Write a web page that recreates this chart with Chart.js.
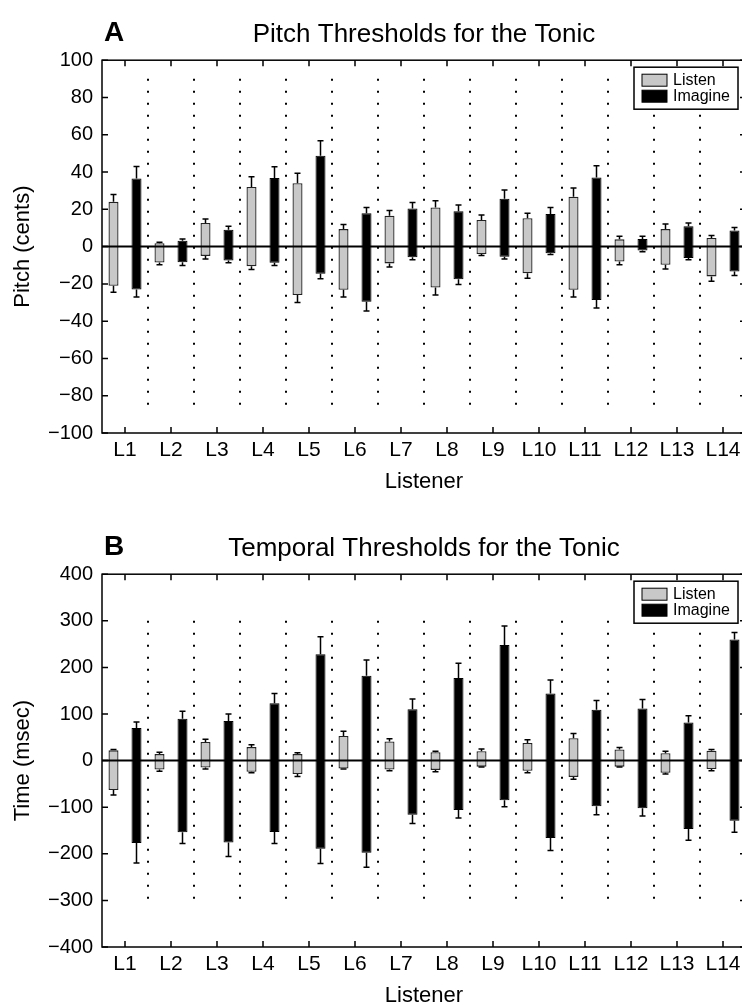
<!DOCTYPE html>
<html>
<head>
<meta charset="utf-8">
<script src="https://cdn.jsdelivr.net/npm/chart.js@4.4.0/dist/chart.umd.min.js"></script>
<style>
  html, body { margin: 0; padding: 0; background: #fff; overflow: hidden; width: 742px; height: 1008px; }
  .panel { position: absolute; left: 0; width: 760px; }
  #boxA { top: 0; height: 500px; }
  #boxB { top: 514px; height: 494px; }
</style>
</head>
<body>
<div class="panel" id="boxA"><canvas id="pitchChart"></canvas></div>
<div class="panel" id="boxB"><canvas id="timeChart"></canvas></div>
<script>
const listeners = ["L1", "L2", "L3", "L4", "L5", "L6", "L7", "L8", "L9", "L10", "L11", "L12", "L13", "L14"];
const seriesNames = ["Listen", "Imagine"];

// A: pitch thresholds (cents)
const pitchListenLow = [-21, -8.5, -5, -10.5, -26, -23.2, -9, -22, -4, -14.3, -23.2, -8, -9.8, -16];
const pitchListenHigh = [24, 1.8, 12.7, 32, 34, 9.4, 16.6, 21, 14.3, 15.2, 26.8, 3.9, 9.4, 4.6];
const pitchListenLowErr = [3.5, 1.3, 1.6, 1.8, 4, 3.8, 2, 4, 0.8, 2.7, 3.8, 1.8, 2.2, 2.6];
const pitchListenHighErr = [4, 0.5, 2.1, 5.5, 5.3, 2.4, 2.7, 3.6, 2.7, 2.7, 4.6, 1.6, 2.7, 1.3];
const pitchImagineLow = [-23, -8.4, -7.5, -8.7, -14.6, -29.6, -5.7, -17.5, -5.4, -3.6, -28.6, -2.1, -6.1, -13.4];
const pitchImagineHigh = [36.6, 3.2, 9.1, 36.8, 48.7, 17.9, 20.5, 18.9, 25.7, 17.5, 37.1, 4.1, 10.9, 8.6];
const pitchImagineLowErr = [4, 1.8, 1.2, 1.5, 2.7, 4.9, 1.4, 2.8, 1.2, 0.7, 4.4, 0.7, 0.9, 2.1];
const pitchImagineHighErr = [6.4, 0.9, 1.8, 6, 8.1, 3.1, 3.2, 3.4, 4.6, 3.5, 6.3, 1.4, 1.8, 1.7];

// B: temporal thresholds (msec)
const timeListenLow = [-63, -19, -15, -24, -29, -17, -19, -20, -13, -22, -35, -13, -26, -18];
const timeListenHigh = [22, 14, 40, 29, 14, 53, 41, 18, 20, 38, 48, 24, 16, 21];
const timeListenLowErr = [11, 4, 3, 2, 5, 1, 3, 4, 1, 4, 5, 1, 3, 4];
const timeListenHighErr = [2, 4, 6, 5, 3, 10, 6, 2, 5, 7, 10, 4, 4, 3];
const timeImagineLow = [-177, -154, -176, -153, -189, -198, -116, -106, -85, -166, -98, -102, -147, -129];
const timeImagineHigh = [70, 90, 85, 123, 228, 182, 110, 177, 248, 144, 109, 112, 82, 260];
const timeImagineLowErr = [43, 24, 30, 25, 32, 31, 19, 17, 14, 27, 18, 17, 24, 25];
const timeImagineHighErr = [13, 16, 15, 21, 38, 34, 22, 32, 41, 29, 20, 19, 14, 15];

const FONT = "'Liberation Sans', Arial, Helvetica, sans-serif";
const GREY = "#c8c8c8";

Chart.defaults.font.family = FONT;
Chart.defaults.color = "#000";

function ranges(low, high) {
  return low.map((v, i) => [v, high[i]]);
}

// error whiskers, zero line, dotted separators, frame, legend
const matlabLook = {
  id: "matlabLook",
  beforeDatasetsDraw(chart, args, opts) {
    const { ctx, scales: { x, y } } = chart;
    ctx.save();
    ctx.strokeStyle = "#000";
    ctx.lineWidth = 2;
    ctx.setLineDash([2, 10]);
    for (let i = 0; i < listeners.length - 1; i++) {
      const px = Math.round((x.getPixelForValue(i) + x.getPixelForValue(i + 1)) / 2);
      ctx.beginPath();
      ctx.moveTo(px, y.getPixelForValue(opts.sepTop));
      ctx.lineTo(px, y.getPixelForValue(opts.sepBottom));
      ctx.stroke();
    }
    ctx.restore();
  },
  afterDatasetsDraw(chart, args, opts) {
    const { ctx, chartArea, scales: { y } } = chart;
    ctx.save();
    ctx.strokeStyle = "#000";
    ctx.lineWidth = 1.5;
    chart.data.datasets.forEach((ds, di) => {
      const meta = chart.getDatasetMeta(di);
      meta.data.forEach((bar, i) => {
        const [lo, hi] = ds.data[i];
        const ends = [[hi, hi + ds.errHigh[i]], [lo, lo - ds.errLow[i]]];
        ends.forEach(([from, to]) => {
          const y0 = y.getPixelForValue(from);
          const y1 = y.getPixelForValue(to);
          ctx.beginPath();
          ctx.moveTo(bar.x, y0);
          ctx.lineTo(bar.x, y1);
          ctx.moveTo(bar.x - 3, y1);
          ctx.lineTo(bar.x + 3, y1);
          ctx.stroke();
        });
      });
    });
    // zero line
    ctx.lineWidth = 2;
    const y0 = y.getPixelForValue(0);
    ctx.beginPath();
    ctx.moveTo(chartArea.left, y0);
    ctx.lineTo(chartArea.right, y0);
    ctx.stroke();
    ctx.restore();
  },
  afterDraw(chart, args, opts) {
    const { ctx, chartArea: a, scales: { x, y } } = chart;
    ctx.save();
    ctx.strokeStyle = "#000";
    ctx.lineWidth = 1.5;
    ctx.strokeRect(a.left, a.top, a.right - a.left, a.bottom - a.top);

    // inward ticks
    ctx.beginPath();
    y.ticks.forEach((t, i) => {
      const py = y.getPixelForTick(i);
      ctx.moveTo(a.left, py);
      ctx.lineTo(a.left + 6, py);
      ctx.moveTo(a.right, py);
      ctx.lineTo(a.right - 6, py);
    });
    x.ticks.forEach((t, i) => {
      const px = x.getPixelForTick(i);
      ctx.moveTo(px, a.top);
      ctx.lineTo(px, a.top + 6);
      ctx.moveTo(px, a.bottom);
      ctx.lineTo(px, a.bottom - 6);
    });
    ctx.stroke();

    // legend box
    const lx = 634, ly = a.top + 7, lw = 104, lh = 42;
    ctx.fillStyle = "#fff";
    ctx.fillRect(lx, ly, lw, lh);
    ctx.lineWidth = 1.5;
    ctx.strokeRect(lx, ly, lw, lh);
    ctx.font = "16px " + FONT;
    ctx.textBaseline = "middle";
    chart.data.datasets.forEach((ds, i) => {
      const sy = ly + 7 + i * 16;
      ctx.fillStyle = ds.backgroundColor;
      ctx.fillRect(lx + 8, sy, 25, 12);
      ctx.lineWidth = 1;
      ctx.strokeRect(lx + 8, sy, 25, 12);
      ctx.fillStyle = "#000";
      ctx.fillText(ds.label, lx + 39, sy + 6);
    });

    // panel letter
    ctx.font = "bold 28px " + FONT;
    ctx.textBaseline = "middle";
    ctx.fillText(opts.letter, 104, 33);
    ctx.restore();
  }
};

function makeChart(canvasId, cfg) {
  return new Chart(document.getElementById(canvasId), {
    type: "bar",
    data: {
      labels: listeners,
      datasets: [
        {
          label: seriesNames[0],
          data: ranges(cfg.listenLow, cfg.listenHigh),
          errLow: cfg.listenLowErr,
          errHigh: cfg.listenHighErr,
          backgroundColor: GREY,
          borderColor: "#222",
          borderWidth: 1.3,
          borderSkipped: false
        },
        {
          label: seriesNames[1],
          data: ranges(cfg.imagineLow, cfg.imagineHigh),
          errLow: cfg.imagineLowErr,
          errHigh: cfg.imagineHighErr,
          backgroundColor: "#000",
          borderColor: "#000",
          borderWidth: 1,
          borderSkipped: false
        }
      ]
    },
    options: {
      responsive: true,
      maintainAspectRatio: false,
      animation: false,
      categoryPercentage: 1.0,
      barPercentage: 10 / 23,
      layout: { padding: { left: 0, right: 14, top: 0, bottom: cfg.padBottom } },
      plugins: {
        legend: { display: false },
        tooltip: { enabled: false },
        title: {
          display: true,
          text: cfg.title,
          fullSize: false,
          font: { size: 26, weight: "normal", lineHeight: 1.2 },
          padding: { top: 19, bottom: 10 }
        },
        matlabLook: { letter: cfg.letter, sepTop: cfg.sepTop, sepBottom: cfg.sepBottom }
      },
      scales: {
        x: {
          grid: { display: false, drawTicks: false },
          border: { display: false },
          ticks: { font: { size: 21 }, padding: 5, maxRotation: 0, autoSkip: false },
          title: { display: true, text: "Listener", font: { size: 22 }, padding: { top: 0, bottom: 0 } },
          afterFit(scale) { scale.height = 62; }
        },
        y: {
          min: cfg.min,
          max: cfg.max,
          grid: { display: false, drawTicks: false },
          border: { display: false },
          ticks: {
            stepSize: cfg.step,
            font: { size: 20 },
            padding: 9,
            callback: (v) => String(v).replace("-", "\u2212")
          },
          title: { display: true, text: cfg.yTitle, font: { size: 22 }, padding: { top: 10, bottom: 0 } },
          afterFit(scale) { scale.width = 102; }
        }
      }
    },
    plugins: [matlabLook]
  });
}

makeChart("pitchChart", {
  title: "Pitch Thresholds for the Tonic",
  letter: "A",
  yTitle: "Pitch (cents)",
  min: -100, max: 100, step: 20,
  sepTop: 90, sepBottom: -90,
  padBottom: 5,
  listenLow: pitchListenLow, listenHigh: pitchListenHigh,
  listenLowErr: pitchListenLowErr, listenHighErr: pitchListenHighErr,
  imagineLow: pitchImagineLow, imagineHigh: pitchImagineHigh,
  imagineLowErr: pitchImagineLowErr, imagineHighErr: pitchImagineHighErr
});

makeChart("timeChart", {
  title: "Temporal Thresholds for the Tonic",
  letter: "B",
  yTitle: "Time (msec)",
  min: -400, max: 400, step: 100,
  sepTop: 300, sepBottom: -312,
  padBottom: -1,
  listenLow: timeListenLow, listenHigh: timeListenHigh,
  listenLowErr: timeListenLowErr, listenHighErr: timeListenHighErr,
  imagineLow: timeImagineLow, imagineHigh: timeImagineHigh,
  imagineLowErr: timeImagineLowErr, imagineHighErr: timeImagineHighErr
});
</script>
</body>
</html>
